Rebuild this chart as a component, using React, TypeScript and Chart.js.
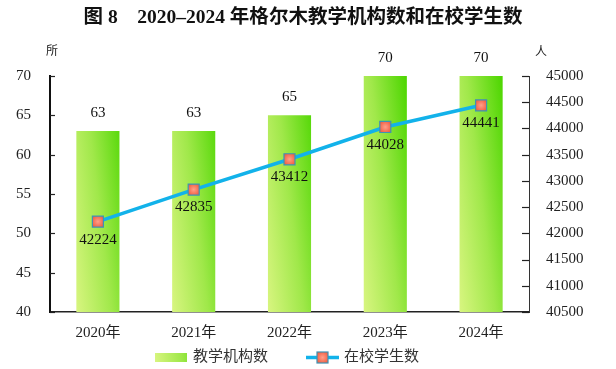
import React, { useEffect, useRef } from "react";
import { Chart, registerables } from "chart.js";

Chart.register(...registerables);

const titleText = "图 8    2020–2024 年格尔木教学机构数和在校学生数";
const years = ["2020年", "2021年", "2022年", "2023年", "2024年"];
const institutions = [63, 63, 65, 70, 70];
const students = [42224, 42835, 43412, 44028, 44441];
const barLabel = "教学机构数";
const lineLabel = "在校学生数";
const leftUnit = "所";
const rightUnit = "人";

const SERIF = "'Liberation Serif', 'Times New Roman', 'Noto Sans CJK SC', serif";
const LINE_COLOR = "#12b2ea";

const ok = (...v: number[]) => v.every((n) => Number.isFinite(n));

function barGradient(ctx: CanvasRenderingContext2D, left: number, right: number, bottom: number): any {
  if (!ok(left, right, bottom)) return "#9be640";
  const w = right - left;
  const a = w * 1.64;
  const b = w * 0.2;
  const g = ctx.createLinearGradient(left, bottom, left + a, bottom - b);
  g.addColorStop(0, "#d8f580");
  g.addColorStop(0.5, "#a0e84a");
  g.addColorStop(1, "#4cd600");
  return g;
}

function pointGradient(ctx: CanvasRenderingContext2D, x: number, y: number): any {
  if (!ok(x, y)) return "#f0583c";
  const g = ctx.createRadialGradient(x, y, 0, x, y, 7);
  g.addColorStop(0, "#ffa08a");
  g.addColorStop(1, "#f0583c");
  return g;
}

export default function App() {
  const ref = useRef<HTMLCanvasElement | null>(null);

  useEffect(() => {
    document.body.style.margin = "0";
    const canvas = ref.current;
    if (!canvas) return;

    const overlay = {
      id: "overlay",
      afterDraw(chart: any) {
        const c = chart.ctx as CanvasRenderingContext2D;
        const { chartArea } = chart;
        c.save();
        // title
        c.fillStyle = "#111";
        c.font = `bold 19.5px ${SERIF}`;
        c.textAlign = "center";
        c.textBaseline = "middle";
        c.fillText(titleText, 303, 18);
        // unit labels
        c.font = `12px ${SERIF}`;
        c.fillStyle = "#222";
        c.fillText(leftUnit, 52, 52);
        c.fillText(rightUnit, 541, 53);
        // inward ticks
        c.strokeStyle = "#222";
        c.lineWidth = 1.2;
        const ys = chart.scales.y;
        ys.ticks.forEach((t: any) => {
          const py = Math.round(ys.getPixelForValue(t.value)) + 0.5;
          c.beginPath();
          c.moveTo(chartArea.left, py);
          c.lineTo(chartArea.left + 5, py);
          c.stroke();
        });
        const y1 = chart.scales.y1;
        y1.ticks.forEach((t: any) => {
          const py = Math.round(y1.getPixelForValue(t.value)) + 0.5;
          c.beginPath();
          c.moveTo(chartArea.right - 7, py);
          c.lineTo(chartArea.right, py);
          c.stroke();
        });
        // data labels
        c.font = `15px ${SERIF}`;
        c.fillStyle = "#111";
        c.textAlign = "center";
        c.textBaseline = "middle";
        const barMeta = chart.getDatasetMeta(0);
        barMeta.data.forEach((el: any, i: number) => {
          c.fillText(String(institutions[i]), el.x, el.y - 18);
        });
        const lineMeta = chart.getDatasetMeta(1);
        lineMeta.data.forEach((el: any, i: number) => {
          c.fillText(String(students[i]), el.x, el.y + 18);
        });
        // legend
        const ly = 357.5;
        c.fillStyle = barGradient(c, 155, 187, 362);
        c.fillRect(155, 353, 32, 9);
        c.fillStyle = "#333";
        c.textAlign = "left";
        c.font = `15px ${SERIF}`;
        c.fillText(barLabel, 193, ly);
        c.strokeStyle = LINE_COLOR;
        c.lineWidth = 3.5;
        c.beginPath();
        c.moveTo(306, ly);
        c.lineTo(339, ly);
        c.stroke();
        c.fillStyle = pointGradient(c, 322.5, ly);
        c.fillRect(317, ly - 5.5, 11, 11);
        c.strokeStyle = "#3d93b5";
        c.lineWidth = 1.2;
        c.strokeRect(317, ly - 5.5, 11, 11);
        c.fillStyle = "#333";
        c.fillText(lineLabel, 344, ly);
        c.restore();
      },
    };

    const chart = new Chart(canvas, {
      type: "bar",
      data: {
        labels: years,
        datasets: [
          {
            type: "bar",
            label: barLabel,
            data: institutions,
            yAxisID: "y",
            order: 2,
            categoryPercentage: 1,
            barPercentage: 0.45,
            borderWidth: 0,
            backgroundColor: (ctx: any) => {
              const ch = ctx.chart;
              const xs = ch.scales?.x;
              const ys = ch.scales?.y;
              if (!xs || !ys || ctx.dataIndex === undefined) return "#9be640";
              const cx = xs.getPixelForValue(ctx.dataIndex);
              const w = 43;
              const bottom = ys.getPixelForValue(40);
              return barGradient(ch.ctx, cx - w / 2, cx + w / 2, bottom);
            },
          } as any,
          {
            type: "line",
            label: lineLabel,
            data: students,
            yAxisID: "y1",
            order: 1,
            borderColor: LINE_COLOR,
            borderWidth: 3.5,
            pointStyle: "rect",
            pointRadius: 7.8,
            pointHoverRadius: 7.8,
            pointBorderColor: "#3d93b5",
            pointBorderWidth: 1.2,
            pointBackgroundColor: (ctx: any) => {
              const ch = ctx.chart;
              const xs = ch.scales?.x;
              const ys = ch.scales?.y1;
              if (!xs || !ys || ctx.dataIndex === undefined) return "#f0583c";
              const x = xs.getPixelForValue(ctx.dataIndex);
              const y = ys.getPixelForValue(students[ctx.dataIndex]);
              return pointGradient(ch.ctx, x, y);
            },
          } as any,
        ],
      },
      options: {
        responsive: false,
        animation: false,
        events: [],
        layout: { padding: { top: 76, bottom: 0, left: 0, right: 0 } },
        plugins: {
          legend: { display: false },
          title: { display: false },
          tooltip: { enabled: false },
        },
        scales: {
          x: {
            grid: { display: false },
            border: { display: true, color: "#222", width: 1.5 },
            ticks: {
              color: "#222",
              font: { family: SERIF, size: 15 },
              padding: 4,
            },
            afterFit: (s: any) => {
              s.height = 57;
            },
          },
          y: {
            position: "left",
            min: 40,
            max: 70,
            grid: { display: false },
            border: { display: true, color: "#111", width: 2 },
            ticks: {
              stepSize: 5,
              color: "#222",
              font: { family: SERIF, size: 15 },
              padding: 11,
            },
            afterFit: (s: any) => {
              s.width = 50;
            },
          },
          y1: {
            position: "right",
            min: 40500,
            max: 45000,
            grid: { display: false },
            border: { display: true, color: "#333", width: 1 },
            ticks: {
              stepSize: 500,
              color: "#222",
              font: { family: SERIF, size: 15 },
              padding: 9,
              callback: (v: any) => String(v),
            },
            afterFit: (s: any) => {
              s.width = 87;
            },
          },
        },
      } as any,
      plugins: [overlay as any],
    });

    return () => {
      chart.destroy();
    };
  }, []);

  return (
    <div style={{ width: 616, height: 369 }}>
      <canvas ref={ref} width={616} height={369} style={{ display: "block", width: 616, height: 369 }} />
    </div>
  );
}
